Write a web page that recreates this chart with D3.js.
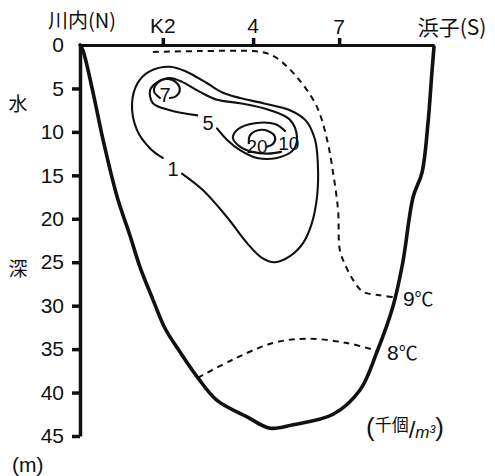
<!DOCTYPE html>
<html>
<head>
<meta charset="utf-8">
<script src="https://cdn.jsdelivr.net/npm/d3@7"></script>
<style>
  html, body { margin: 0; padding: 0; background: #fff; }
  svg { display: block; }
  text { font-family: "Liberation Sans", "Noto Sans CJK JP", sans-serif; fill: #111; }
  .cjk { font-family: "Noto Sans CJK JP", sans-serif; }
</style>
</head>
<body>
<svg id="chart" width="495" height="476"></svg>
<script>
// Stations along the section (distance as % of transect length)
const stationNames = ["川内(N)", "K2", "4", "7", "浜子(S)"];
const stationPos   = [0, 23.4, 48.9, 73.2, 100];

// Depth axis ticks (m)
const depthTicks = [0, 5, 10, 15, 20, 25, 30, 35, 40, 45];

// Lake-bottom profile: [distance %, depth m]
const bottomProfile = [
  [0, 0], [0.8, 0.6], [3.7, 5.5], [6.5, 10.9], [10.5, 17.5], [14.1, 21.9],
  [16.9, 25.5], [20.6, 29.3], [24.0, 32.6], [28.2, 35.3], [33.3, 38.3],
  [38.7, 40.9], [47.2, 42.8], [53.7, 44.1], [60.2, 43.7], [71.5, 42.5],
  [79.1, 39.7], [83.9, 35.3], [88.4, 30.1], [91.2, 25.0], [94.1, 17.5],
  [96.6, 14.7], [98.3, 9.0], [99.4, 3.2], [100, 0.2]
];

// Isotherms (dashed)
const isotherm9 = [
  [20.6, 0.8], [33.9, 0.7], [48.9, 0.7], [52.3, 0.9], [55.6, 1.5], [61.3, 3.7],
  [66.9, 7.1], [69.8, 10.9], [71.5, 14.7], [72.9, 19.0], [73.4, 23.6],
  [74.9, 25.3], [77.1, 27.0], [79.9, 28.4], [84.7, 28.8], [88.4, 29.0]
];
const isotherm8 = [
  [33.3, 38.3], [43.2, 36.2], [54.5, 34.3], [64.1, 33.8], [75.4, 34.3], [83.9, 35.2]
];
const isothermLabels = ["9", "8"];

// Density contours (thousand individuals / m^3)
const contour1 = [
  [28.8, 14.8], [34.7, 16.7], [41.5, 19.8], [47.2, 22.8], [51.4, 24.5],
  [55.1, 25.0], [59.3, 24.3], [63.0, 22.8], [65.5, 20.5], [67.0, 17.3],
  [67.2, 13.8], [66.4, 10.9], [63.8, 8.7], [59.3, 7.5], [51.7, 6.7],
  [45.2, 6.1], [40.4, 5.5], [35.9, 4.4], [30.2, 3.1], [25.4, 2.5],
  [19.8, 3.0], [16.4, 4.3], [14.7, 6.7], [16.1, 9.8], [19.8, 11.9], [23.4, 13.0]
];
const contour5 = [
  [38.7, 9.6], [41.5, 10.9], [45.2, 12.1], [50.0, 13.0], [55.6, 13.0],
  [60.2, 12.1], [61.3, 10.6], [59.3, 8.6], [53.7, 7.5], [45.2, 6.7],
  [38.7, 6.3], [33.9, 5.4], [29.1, 4.3], [25.4, 3.8], [21.8, 4.3],
  [19.8, 5.2], [20.6, 6.7], [25.4, 7.5], [33.1, 8.1]
];
const contour7 = [
  [22.6, 6.1], [20.9, 5.3], [21.8, 4.4], [24.6, 3.9], [27.4, 4.4],
  [28.2, 5.2], [27.1, 5.9], [25.4, 6.1]
];
const contour10 = [
  [56.8, 12.3], [53.1, 12.5], [48.6, 12.3], [45.2, 11.7], [43.2, 10.7],
  [44.6, 9.7], [49.4, 9.0], [55.1, 9.1], [57.9, 9.9]
];
const contour20 = [
  [52.8, 11.7], [54.5, 11.4], [55.1, 10.6], [53.1, 9.9], [50.3, 9.8],
  [48.0, 10.4], [47.7, 11.3]
];
const contourLabels = ["1", "5", "7", "20", "10"];
const contourLabelPos = [[26.3, 14.2], [36.2, 8.9], [24.0, 5.7], [50.0, 11.6], [59.0, 11.3]];

const svg = d3.select("#chart");
const x = d3.scaleLinear().domain([0, 100]).range([80, 434]);
const y = d3.scaleLinear().domain([0, 45]).range([45, 436]);

const line = d3.line().x(d => x(d[0])).y(d => y(d[1])).curve(d3.curveCatmullRom.alpha(0.5));

// Density contours
[contour1, contour5, contour7, contour10, contour20].forEach(c => {
  svg.append("path").attr("d", line(c))
    .attr("fill", "none").attr("stroke", "#111").attr("stroke-width", 2.1)
    .attr("stroke-linecap", "round").attr("stroke-linejoin", "round");
});

// Isotherms
[isotherm9, isotherm8].forEach(c => {
  svg.append("path").attr("d", line(c))
    .attr("fill", "none").attr("stroke", "#111").attr("stroke-width", 2)
    .attr("stroke-dasharray", "6,5");
});

// Lake bottom
svg.append("path").attr("d", line(bottomProfile))
  .attr("fill", "none").attr("stroke", "#111").attr("stroke-width", 3.6)
  .attr("stroke-linejoin", "round").attr("stroke-linecap", "round");

// Top axis (stations)
const topAxis = svg.append("g").attr("transform", `translate(0,${y(0)})`)
  .call(d3.axisTop(x).tickValues(stationPos.slice(1, 4)).tickSize(7).tickSizeOuter(0).tickFormat(""));
topAxis.select(".domain").attr("stroke", "#111").attr("stroke-width", 3);
topAxis.selectAll(".tick line").attr("stroke", "#111").attr("stroke-width", 3.5);

// Left axis (depth)
const leftAxis = svg.append("g").attr("transform", `translate(${x(0)},0)`)
  .call(d3.axisLeft(y).tickValues(depthTicks).tickSize(8).tickSizeOuter(0).tickPadding(8));
leftAxis.select(".domain").attr("stroke", "#111").attr("stroke-width", 3.5);
leftAxis.selectAll(".tick line").attr("stroke", "#111").attr("stroke-width", 3.5)
  .attr("opacity", d => d === 0 ? 0 : 1);
leftAxis.selectAll(".tick text").attr("font-size", 21).attr("fill", "#111")
  .attr("font-family", "Liberation Sans, sans-serif");

// Station labels
const stationLabelX = [x(stationPos[0]) + 2, x(stationPos[1]), x(stationPos[2]), x(stationPos[3]), x(stationPos[4]) + 18];
const stationLabelY = [28, 33, 33, 34, 35];
stationNames.forEach((s, i) => {
  svg.append("text").attr("class", i === 0 || i === 4 ? "cjk" : null)
    .attr("x", stationLabelX[i]).attr("y", stationLabelY[i])
    .attr("text-anchor", "middle").attr("font-size", i === 0 ? 20 : 21).text(s);
});

// Depth axis title
svg.append("text").attr("class", "cjk").attr("x", 18).attr("y", 111)
  .attr("text-anchor", "middle").attr("font-size", 19).text("水");
svg.append("text").attr("class", "cjk").attr("x", 18).attr("y", 276)
  .attr("text-anchor", "middle").attr("font-size", 19).text("深");
svg.append("text").attr("x", 12).attr("y", 472).attr("font-size", 21).text("(m)");

// Contour labels
contourLabels.forEach((t, i) => {
  const p = contourLabelPos[i];
  svg.append("text").attr("x", x(p[0])).attr("y", y(p[1])).attr("dy", "0.36em")
    .attr("text-anchor", "middle").attr("font-size", t.length > 1 ? 19 : 20).text(t);
});

// Isotherm labels (°C)
[isotherm9, isotherm8].forEach((c, i) => {
  const end = c[c.length - 1];
  const t = svg.append("text").attr("x", x(end[0]) + 10).attr("y", y(end[1]) + 9)
    .attr("font-size", 21);
  t.append("tspan").text(isothermLabels[i]);
  t.append("tspan").attr("class", "cjk").attr("font-size", 19).text("℃");
});

// Unit label
const unit = svg.append("text").attr("x", 366).attr("y", 436).attr("font-size", 17);
unit.append("tspan").attr("font-size", 26).text("(");
unit.append("tspan").attr("class", "cjk").attr("dy", -5).text("千個");
unit.append("tspan").attr("font-size", 24).attr("dy", 7).text("/");
unit.append("tspan").attr("font-style", "italic").attr("dy", 0).text("m³");
unit.append("tspan").attr("font-size", 26).attr("dy", -2).text(")");
</script>
</body>
</html>
